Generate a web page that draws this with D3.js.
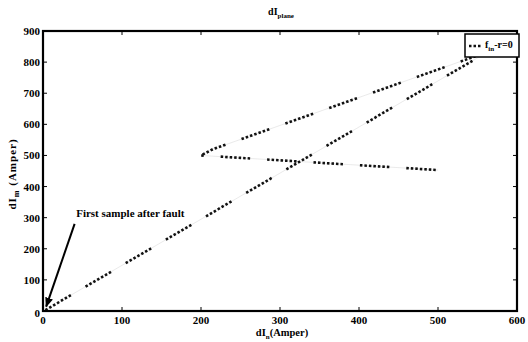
<!doctype html>
<html>
<head>
<meta charset="utf-8">
<script src="https://d3js.org/d3.v7.min.js"></script>
<style>
  body { margin: 0; background: #fff; }
  text { font-family: "Liberation Serif", "Times New Roman", serif; font-weight: bold; }
</style>
</head>
<body>
<div id="chart"></div>
<script>
// trajectory of the differential current (dI_n, dI_m), in Amper
var dIn = [3, 563, 215, 200, 500];
var dIm = [3, 833, 520, 500, 453];

var xTicks = [0, 100, 200, 300, 400, 500, 600];
var yTicks = [0, 100, 200, 300, 400, 500, 600, 700, 800, 900];

// arrow pointing at the first sample
var arrowFrom = [40, 280];
var arrowTo = [4, 14];
var noteAt = [42, 302];
var noteText = "First sample after fault";

var W = 528, H = 342;
var svg = d3.select("#chart").append("svg")
  .attr("width", W).attr("height", H);

var x = d3.scaleLinear().domain([0, 600]).range([43, 517]);
var y = d3.scaleLinear().domain([0, 900]).range([311, 31]);

var pts = dIn.map(function (d, i) { return [d, dIm[i]]; });
var line = d3.line().x(function (d) { return x(d[0]); }).y(function (d) { return y(d[1]); });

// faint underlay, then dotted bursts
svg.append("path").datum(pts)
  .attr("d", line)
  .attr("fill", "none")
  .attr("stroke", "#e4e4e4")
  .attr("stroke-width", 0.8);

var burst = [];
for (var k = 0; k < 7; k++) { burst.push(2.5, 2); }
burst[burst.length - 1] = 17;
svg.append("path").datum(pts)
  .attr("d", line)
  .attr("fill", "none")
  .attr("stroke", "#111")
  .attr("stroke-width", 2.6)
  .attr("stroke-dasharray", burst.join(","));

// axes box
svg.append("rect")
  .attr("x", x(0)).attr("y", y(900))
  .attr("width", x(600) - x(0)).attr("height", y(0) - y(900))
  .attr("fill", "none").attr("stroke", "#000").attr("stroke-width", 2.2);

// inward ticks on all four sides
var tl = 4;
xTicks.slice(1, -1).forEach(function (t) {
  svg.append("line").attr("x1", x(t)).attr("x2", x(t)).attr("y1", y(0)).attr("y2", y(0) - tl)
    .attr("stroke", "#000").attr("stroke-width", 1);
  svg.append("line").attr("x1", x(t)).attr("x2", x(t)).attr("y1", y(900)).attr("y2", y(900) + tl)
    .attr("stroke", "#000").attr("stroke-width", 1);
});
yTicks.slice(1, -1).forEach(function (t) {
  svg.append("line").attr("x1", x(0)).attr("x2", x(0) + tl).attr("y1", y(t)).attr("y2", y(t))
    .attr("stroke", "#000").attr("stroke-width", 1);
  svg.append("line").attr("x1", x(600)).attr("x2", x(600) - tl).attr("y1", y(t)).attr("y2", y(t))
    .attr("stroke", "#000").attr("stroke-width", 1);
});

// tick labels
svg.selectAll(".xl").data(xTicks).enter().append("text")
  .attr("x", function (d) { return x(d); })
  .attr("y", y(0) + 13)
  .attr("text-anchor", "middle")
  .attr("font-size", 11)
  .text(function (d) { return d; });

svg.selectAll(".yl").data(yTicks).enter().append("text")
  .attr("x", x(0) - 3)
  .attr("y", function (d) { return y(d) + (d === 0 ? 6 : 4); })
  .attr("text-anchor", "end")
  .attr("font-size", 11)
  .text(function (d) { return d; });

// title
var title = svg.append("text").attr("x", 281).attr("y", 15).attr("text-anchor", "middle").attr("font-size", 10);
title.append("tspan").text("dI");
title.append("tspan").attr("font-size", 7).attr("dy", 3).text("plane");

// x label
var xl = svg.append("text").attr("x", 282).attr("y", 336).attr("text-anchor", "middle").attr("font-size", 10.5);
xl.append("tspan").text("dI");
xl.append("tspan").attr("font-size", 7).attr("dy", 3).text("n");
xl.append("tspan").attr("dy", -3).text("(Amper)");

// y label
var yl = svg.append("text")
  .attr("transform", "translate(16,174) rotate(-90)")
  .attr("text-anchor", "middle").attr("font-size", 11)
  .attr("letter-spacing", 1);
yl.append("tspan").text("dI");
yl.append("tspan").attr("font-size", 8).attr("dy", 3).text("m");
yl.append("tspan").attr("dy", -3).text(" (Amper)");

// annotation
svg.append("defs").append("marker")
  .attr("id", "head").attr("viewBox", "0 0 10 10")
  .attr("refX", 9).attr("refY", 5)
  .attr("markerWidth", 5).attr("markerHeight", 5)
  .attr("orient", "auto")
  .append("path").attr("d", "M0,1 L10,5 L0,9 Z").attr("fill", "#000");

svg.append("line")
  .attr("x1", x(arrowFrom[0])).attr("y1", y(arrowFrom[1]))
  .attr("x2", x(arrowTo[0])).attr("y2", y(arrowTo[1]))
  .attr("stroke", "#000").attr("stroke-width", 2)
  .attr("marker-end", "url(#head)");

svg.append("text")
  .attr("x", x(noteAt[0])).attr("y", y(noteAt[1]))
  .attr("font-size", 11)
  .text(noteText);

// legend
var lg = svg.append("g");
lg.append("rect").attr("x", 465).attr("y", 34).attr("width", 54).attr("height", 23)
  .attr("fill", "#fff").attr("stroke", "#000").attr("stroke-width", 1.5);
lg.append("line").attr("x1", 469).attr("x2", 482).attr("y1", 46).attr("y2", 46)
  .attr("stroke", "#111").attr("stroke-width", 2.6).attr("stroke-dasharray", "2.5,2");
var lt = lg.append("text").attr("x", 485).attr("y", 48).attr("font-size", 10);
lt.append("tspan").text("f");
lt.append("tspan").attr("font-size", 7).attr("dy", 3).text("in");
lt.append("tspan").attr("dy", -3).text("-r=0");
</script>
</body>
</html>
